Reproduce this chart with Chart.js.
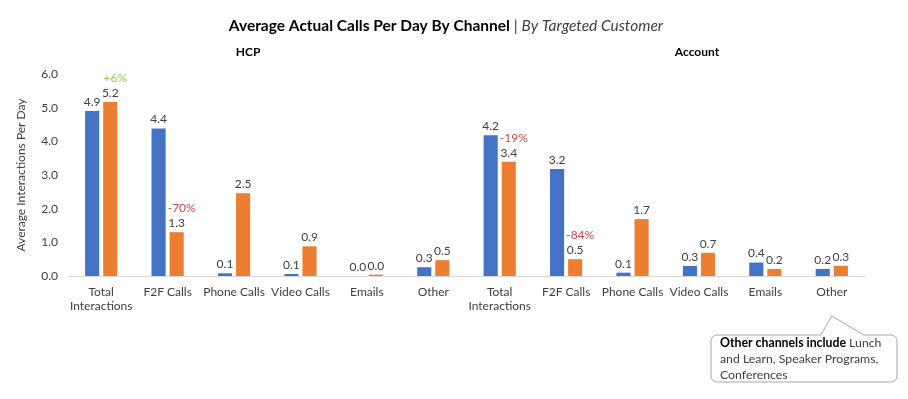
<!DOCTYPE html>
<html>
<head>
<meta charset="utf-8">
<script src="https://cdn.jsdelivr.net/npm/chart.js@4/dist/chart.umd.min.js"></script>
<style>
  body { margin: 0; background: #fff; }
  #wrap { width: 908px; height: 399px; position: relative; }
</style>
</head>
<body>
<div id="wrap"><canvas id="chart"></canvas></div>
<script>
// Categories: HCP block then Account block, one continuous axis
const categories = [
  ['Total', 'Interactions'], 'F2F Calls', 'Phone Calls', 'Video Calls', 'Emails', 'Other',
  ['Total', 'Interactions'], 'F2F Calls', 'Phone Calls', 'Video Calls', 'Emails', 'Other'
];
// blue series / orange series (bar heights)
const blueValues   = [4.9, 4.38, 0.08, 0.06, 0.0, 0.26, 4.18, 3.18, 0.1, 0.3, 0.4, 0.21];
const orangeValues = [5.17, 1.3, 2.46, 0.88, 0.04, 0.47, 3.39, 0.5, 1.69, 0.69, 0.21, 0.3];
const changeLabels = ['+6%', '-70%', '', '', '', '', '-19%', '-84%', '', '', '', ''];
const yTicks = [0, 1, 2, 3, 4, 5, 6];

const FONT = 'Lato, "Open Sans", sans-serif';
const TEXT = '#404040';

// Value labels above bars + change % labels
const barLabels = {
  id: 'barLabels',
  afterDatasetsDraw(chart) {
    const ctx = chart.ctx;
    ctx.save();
    ctx.font = '12px ' + FONT;
    ctx.textAlign = 'center';
    ctx.textBaseline = 'bottom';
    chart.data.datasets.forEach((ds, di) => {
      const meta = chart.getDatasetMeta(di);
      meta.data.forEach((bar, i) => {
        ctx.fillStyle = TEXT;
        ctx.fillText(ds.data[i].toFixed(1), bar.x, bar.y - 3);
        if (di === 1 && changeLabels[i]) {
          ctx.fillStyle = changeLabels[i][0] === '+' ? '#92D050' : '#C9474B';
          ctx.fillText(changeLabels[i], bar.x + 5, bar.y - 18);
        }
      });
    });
    ctx.restore();
  }
};

// Title, block headings and the "Other" callout
const decorations = {
  id: 'decorations',
  afterDraw(chart) {
    const ctx = chart.ctx;
    const x = chart.scales.x;
    ctx.save();
    ctx.textBaseline = 'middle';
    ctx.fillStyle = '#000';

    // main title: bold part + italic part
    const t1 = 'Average Actual Calls Per Day By Channel';
    const t2 = '| ';
    const t3 = 'By Targeted Customer';
    ctx.font = 'bold 15.5px ' + FONT;
    const w1 = ctx.measureText(t1 + ' ').width;
    ctx.font = '15.5px ' + FONT;
    const w2 = ctx.measureText(t2).width;
    ctx.font = 'italic 15.5px ' + FONT;
    const w3 = ctx.measureText(t3).width;
    let tx = 446 - (w1 + w2 + w3) / 2;
    ctx.textAlign = 'left';
    ctx.font = 'bold 15.5px ' + FONT;
    ctx.fillText(t1, tx, 26);
    tx += w1;
    ctx.font = '15.5px ' + FONT;
    ctx.fillStyle = '#404040';
    ctx.fillText(t2, tx, 26);
    tx += w2;
    ctx.font = 'italic 15.5px ' + FONT;
    ctx.fillText(t3, tx, 26);

    // block headings
    ctx.fillStyle = '#000';
    ctx.textAlign = 'center';
    ctx.font = 'bold 12px ' + FONT;
    ctx.fillText('HCP', 248, 52);
    ctx.fillText('Account', 697, 52);

    // callout box pointing at the last "Other"
    const tipX = x.getPixelForValue(11);
    const tipY = 316;
    const bx = 711, by = 335, bw = 186, bh = 47, r = 6;
    ctx.beginPath();
    ctx.moveTo(bx + r, by);
    ctx.lineTo(tipX - 11, by);
    ctx.lineTo(tipX, tipY);
    ctx.lineTo(tipX + 32, by);
    ctx.lineTo(bx + bw - r, by);
    ctx.arcTo(bx + bw, by, bx + bw, by + r, r);
    ctx.lineTo(bx + bw, by + bh - r);
    ctx.arcTo(bx + bw, by + bh, bx + bw - r, by + bh, r);
    ctx.lineTo(bx + r, by + bh);
    ctx.arcTo(bx, by + bh, bx, by + bh - r, r);
    ctx.lineTo(bx, by + r);
    ctx.arcTo(bx, by, bx + r, by, r);
    ctx.closePath();
    ctx.fillStyle = '#fff';
    ctx.fill();
    ctx.strokeStyle = '#a6a6a6';
    ctx.lineWidth = 1;
    ctx.stroke();

    ctx.textAlign = 'left';
    ctx.fillStyle = '#000';
    ctx.font = 'bold 12.3px ' + FONT;
    const b = 'Other channels include ';
    ctx.fillText(b, 720, 343);
    const bw2 = ctx.measureText(b).width;
    ctx.font = '12.3px ' + FONT;
    ctx.fillStyle = TEXT;
    ctx.fillText('Lunch', 720 + bw2, 343);
    ctx.fillText('and Learn, Speaker Programs,', 720, 359);
    ctx.fillText('Conferences', 720, 375);
    ctx.restore();
  }
};

new Chart(document.getElementById('chart'), {
  type: 'bar',
  data: {
    labels: categories,
    datasets: [
      { label: 'Blue', data: blueValues, backgroundColor: '#4472C4', categoryPercentage: 0.545, barPercentage: 0.78 },
      { label: 'Orange', data: orangeValues, backgroundColor: '#ED7D31', categoryPercentage: 0.545, barPercentage: 0.78 }
    ]
  },
  options: {
    responsive: true,
    maintainAspectRatio: false,
    animation: false,
    layout: { padding: { left: 10, right: 43, top: 74, bottom: 0 } },
    plugins: { legend: { display: false }, tooltip: { enabled: false } },
    scales: {
      x: {
        grid: { display: false, drawTicks: false },
        border: { color: '#d9d9d9' },
        ticks: { color: TEXT, font: { family: FONT, size: 12 }, padding: 9, maxRotation: 0, autoSkip: false },
        afterFit(s) { s.height = 123; }
      },
      y: {
        min: 0, max: 6,
        afterBuildTicks(s) { s.ticks = yTicks.map(v => ({ value: v })); },
        grid: { display: false, drawTicks: false },
        border: { display: false },
        ticks: { color: TEXT, font: { family: FONT, size: 12 }, padding: 10, callback: v => v.toFixed(1) },
        title: { display: true, text: 'Average Interactions Per Day', color: TEXT, font: { family: FONT, size: 12 }, padding: { top: 4, bottom: 0 } },
        afterFit(s) { s.width = 58; }
      }
    }
  },
  plugins: [barLabels, decorations]
});
</script>
</body>
</html>
